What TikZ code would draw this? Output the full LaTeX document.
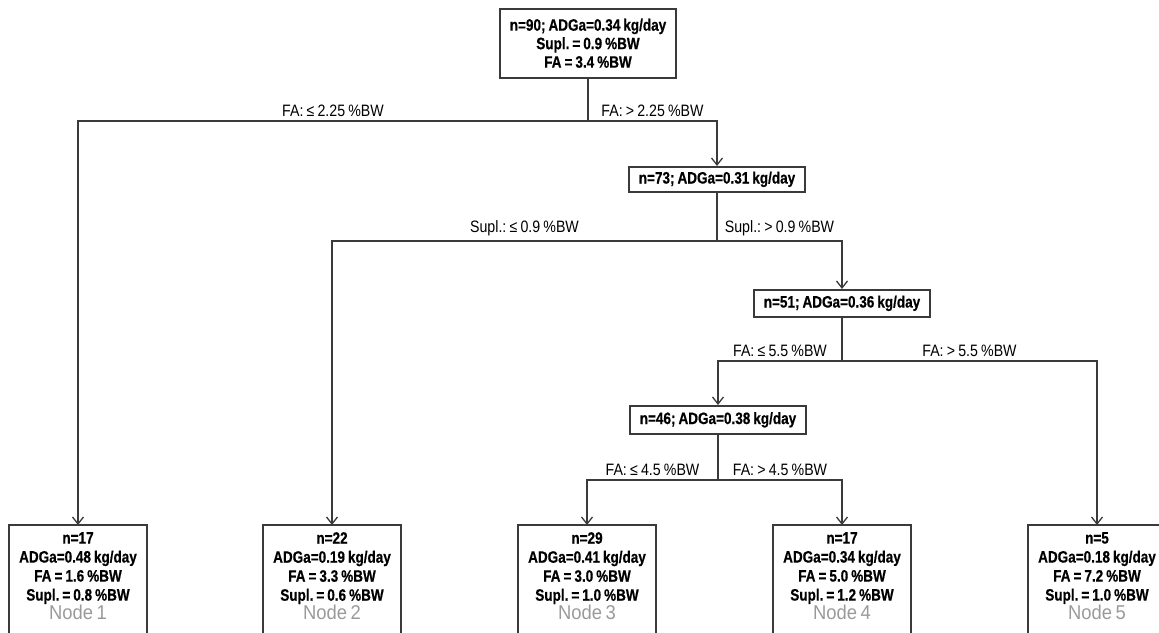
\documentclass[tikz,border=0pt]{standalone}
\usepackage{fontspec}
\setmainfont{Liberation Sans}[FakeStretch=0.82,WordSpace=0.8,BoldFeatures={FakeBold=0.6}]
\newfontfamily\labelfont{Liberation Sans}[FakeStretch=0.86,WordSpace=0.8]
\newfontfamily\nodenumfont{Liberation Sans}[FakeStretch=0.92,WordSpace=0.7]
\usetikzlibrary{arrows.meta}
\definecolor{linegray}{HTML}{3A3A3A}
\definecolor{numgray}{HTML}{9A9A9A}
\newcommand{\nodenum}[1]{{\nodenumfont\mdseries\fontsize{20}{20}\selectfont\color{numgray}Node #1}}
\frenchspacing

\begin{document}
\begin{tikzpicture}[x=1pt,y=-1pt,
	box/.style={draw=linegray,line width=1.6pt},
	splitbox/.style={box,anchor=north,minimum width=176pt,align=center,inner sep=4pt,
		font=\bfseries\fontsize{16.5}{18.5}\selectfont},
	leafbox/.style={anchor=north,minimum width=138pt,align=center,inner xsep=4pt,inner ysep=7pt,
		font=\bfseries\fontsize{16.5}{19}\selectfont},
	conn/.style={draw=linegray,line width=1.6pt},
	arr/.style={conn,-{Straight Barb[length=7pt,width=11pt,line width=1.3pt]}},
	brlabel/.style={above=3pt,inner sep=1pt,font=\labelfont\fontsize{16.5}{18}\selectfont}]
	\useasboundingbox (0,0) rectangle (1159,632);
	\clip (0,0) rectangle (1159,632);
	\node[splitbox,minimum height=69pt] (root) at (588,8) {n=90; ADGa=0.34 kg/day\\Supl. = 0.9 \%BW\\FA = 3.4 \%BW};
	\node[splitbox,minimum height=25pt] (n73) at (717,166) {n=73; ADGa=0.31 kg/day};
	\node[splitbox,minimum height=27pt] (n51) at (842,289) {n=51; ADGa=0.36 kg/day};
	\node[splitbox,minimum height=28pt] (n46) at (718,405) {n=46; ADGa=0.38 kg/day};
	\node[leafbox] (node1) at (78,525) {n=17\\ADGa=0.48 kg/day\\FA = 1.6 \%BW\\Supl. = 0.8 \%BW\\\nodenum{1}};
	\node[leafbox] (node2) at (332,525) {n=22\\ADGa=0.19 kg/day\\FA = 3.3 \%BW\\Supl. = 0.6 \%BW\\\nodenum{2}};
	\node[leafbox] (node3) at (587,525) {n=29\\ADGa=0.41 kg/day\\FA = 3.0 \%BW\\Supl. = 1.0 \%BW\\\nodenum{3}};
	\node[leafbox] (node4) at (842,525) {n=17\\ADGa=0.34 kg/day\\FA = 5.0 \%BW\\Supl. = 1.2 \%BW\\\nodenum{4}};
	\node[leafbox] (node5) at (1097,525) {n=5\\ADGa=0.18 kg/day\\FA = 7.2 \%BW\\Supl. = 1.0 \%BW\\\nodenum{5}};
	\foreach \n in {1,...,5}
		\draw[box] (node\n.north west) rectangle ([yshift=-30pt]node\n.south east);
	\coordinate (s1) at (588,121);
	\coordinate (s2) at (717,241);
	\coordinate (s3) at (842,361);
	\coordinate (s4) at (718,480);
	\draw[conn] (root) -- (s1);
	\draw[arr] (s1) -| node[brlabel,pos=0.25] {FA: ≤ 2.25 \%BW} (node1);
	\draw[arr] (s1) -| node[brlabel,pos=0.25] {FA: > 2.25 \%BW} (n73);
	\draw[conn] (n73) -- (s2);
	\draw[arr] (s2) -| node[brlabel,pos=0.25] {Supl.: ≤ 0.9 \%BW} (node2);
	\draw[arr] (s2) -| node[brlabel,pos=0.25] {Supl.: > 0.9 \%BW} (n51);
	\draw[conn] (n51) -- (s3);
	\draw[arr] (s3) -| node[brlabel,pos=0.25] {FA: ≤ 5.5 \%BW} (n46);
	\draw[arr] (s3) -| node[brlabel,pos=0.25] {FA: > 5.5 \%BW} (node5);
	\draw[conn] (n46) -- (s4);
	\draw[arr] (s4) -| node[brlabel,pos=0.25] {FA: ≤ 4.5 \%BW} (node3);
	\draw[arr] (s4) -| node[brlabel,pos=0.25] {FA: > 4.5 \%BW} (node4);
\end{tikzpicture}
\end{document}
